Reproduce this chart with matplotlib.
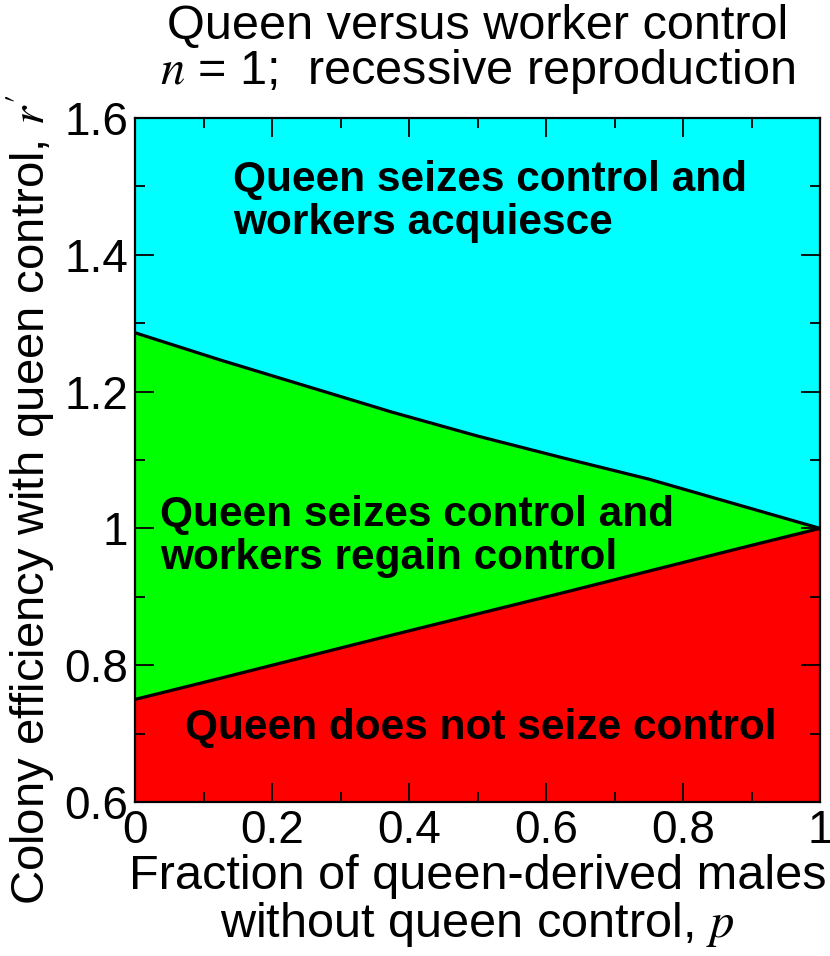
import numpy as np
from matplotlib import pyplot as plt
from matplotlib.ticker import MultipleLocator

plt.rcParams['font.family'] = ['Liberation Sans', 'DejaVu Sans']
plt.rcParams['mathtext.fontset'] = 'stix'

# boundaries
p = [0.0, 0.125, 0.25, 0.375, 0.5, 0.625, 0.75, 0.875, 1.0]
upper = [1.286, 1.246, 1.208, 1.170, 1.135, 1.103, 1.072, 1.036, 1.0]   # acquiesce / regain
lower = [0.75, 0.781, 0.8125, 0.844, 0.875, 0.906, 0.9375, 0.969, 1.0]  # does not seize

labels = ["Queen seizes control and\nworkers acquiesce",
          "Queen seizes control and\nworkers regain control",
          "Queen does not seize control"]
label_pos = [(0.143, 1.478), (0.037, 0.988), (0.073, 0.708)]

fig = plt.figure(figsize=(8.3, 9.56), dpi=100)
ax = fig.add_axes([0.1627, 0.1611, 0.8253, 0.7155])

ax.fill_between(p, upper, 1.6, color='#00ffff', lw=0)
ax.fill_between(p, lower, upper, color='#00ff00', lw=0)
ax.fill_between(p, 0.6, lower, color='#ff0000', lw=0)
ax.plot(p, upper, color='k', lw=2.3, solid_capstyle='butt')
ax.plot(p, lower, color='k', lw=2.3, solid_capstyle='butt')

for txt, (x, y) in zip(labels, label_pos):
    ax.text(x, y, txt, ha='left', va='center', fontsize=30.5, fontweight='bold',
            linespacing=1.12)

ax.set_xlim(0, 1)
ax.set_ylim(0.6, 1.6)
ax.xaxis.set_minor_locator(MultipleLocator(0.1))
ax.yaxis.set_minor_locator(MultipleLocator(0.1))
ax.set_xticks([0, 0.2, 0.4, 0.6, 0.8, 1.0], ['0', '0.2', '0.4', '0.6', '0.8', '1'])
ax.set_yticks([0.6, 0.8, 1.0, 1.2, 1.4, 1.6], ['0.6', '0.8', '1', '1.2', '1.4', '1.6'])
ax.tick_params(which='both', direction='in', top=True, right=True, width=1.3,
               labelsize=33, pad=5)
ax.tick_params(which='major', length=14)
ax.tick_params(which='minor', length=7)
for s in ax.spines.values():
    s.set_linewidth(1.6)

fig.text(0.5753, 0.972, "Queen versus worker control", ha='center', va='center', fontsize=35)
fig.text(0.5753, 0.925, "$n$ = 1;  recessive reproduction", ha='center', va='center', fontsize=35)
fig.text(0.5753, 0.057, "Fraction of queen-derived males\nwithout queen control, $p$",
         ha='center', va='center', fontsize=35, linespacing=1.05)
fig.text(0.036, 0.477, "Colony efficiency with queen control, $r'$", rotation=90,
         ha='center', va='center', fontsize=34)

plt.savefig("out.png", dpi=100)
